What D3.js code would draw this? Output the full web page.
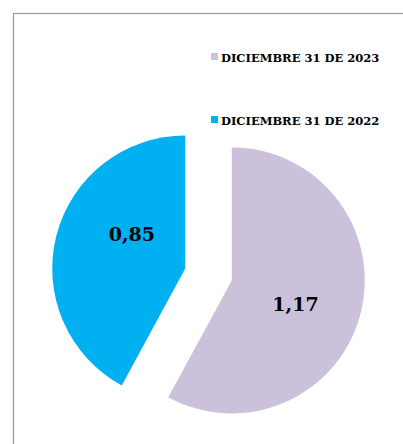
<!DOCTYPE html>
<html><head><meta charset="utf-8">
<script src="https://cdn.jsdelivr.net/npm/d3@7"></script>
<style>html,body{margin:0;padding:0;background:#fff;}svg{display:block;}</style>
</head><body>
<svg id="chart" width="403" height="444"></svg>
<script>
const categories = ["DICIEMBRE 31 DE 2023", "DICIEMBRE 31 DE 2022"];
const values = [1.17, 0.85];
const valueLabels = ["1,17", "0,85"];
const colors = ["#CCC1DA", "#00B0F0"];

const svg = d3.select("#chart");

// frame
svg.append("rect").attr("x", 13.5).attr("y", 13.5).attr("width", 500).attr("height", 500)
  .attr("fill", "none").attr("stroke", "#9a9a9a").attr("stroke-width", 1.2);

const cx = 208.5, cy = 274.5, r = 133, explode = 24;
const pie = d3.pie().sort(null).value(d => d)(values);
const arc = d3.arc().innerRadius(0).outerRadius(r);
const color = d3.scaleOrdinal().domain(categories).range(colors);

const g = svg.append("g").attr("transform", `translate(${cx},${cy})`);
const labelAngleShift = [0.1, 0.33];
const labelDist = [0.51, 0.48];
pie.forEach((p, i) => {
  const mid = (p.startAngle + p.endAngle) / 2;
  const dx = Math.sin(mid) * explode, dy = -Math.cos(mid) * explode;
  const sg = g.append("g").attr("transform", `translate(${dx},${dy})`);
  sg.append("path").attr("d", arc(p)).attr("fill", color(categories[i]));
  const la = mid + labelAngleShift[i];
  const ld = r * labelDist[i];
  sg.append("text")
    .attr("x", Math.sin(la) * ld).attr("y", -Math.cos(la) * ld)
    .attr("text-anchor", "middle").attr("dominant-baseline", "central")
    .attr("font-family", "DejaVu Serif").attr("font-weight", "bold").attr("font-size", 19)
    .attr("fill", "#000").text(valueLabels[i]);
});

// legend
const legY = d3.scalePoint().domain(categories).range([57, 120]);
const leg = svg.append("g");
categories.forEach((c, i) => {
  const y = legY(c);
  leg.append("rect").attr("x", 211).attr("y", y - 4).attr("width", 7).attr("height", 7).attr("fill", colors[i]);
  leg.append("text").attr("x", 221).attr("y", y + 4.5)
    .attr("font-family", "DejaVu Serif").attr("font-weight", "bold").attr("font-size", 11.5)
    .attr("fill", "#000").text(c);
});
</script>
</body></html>
